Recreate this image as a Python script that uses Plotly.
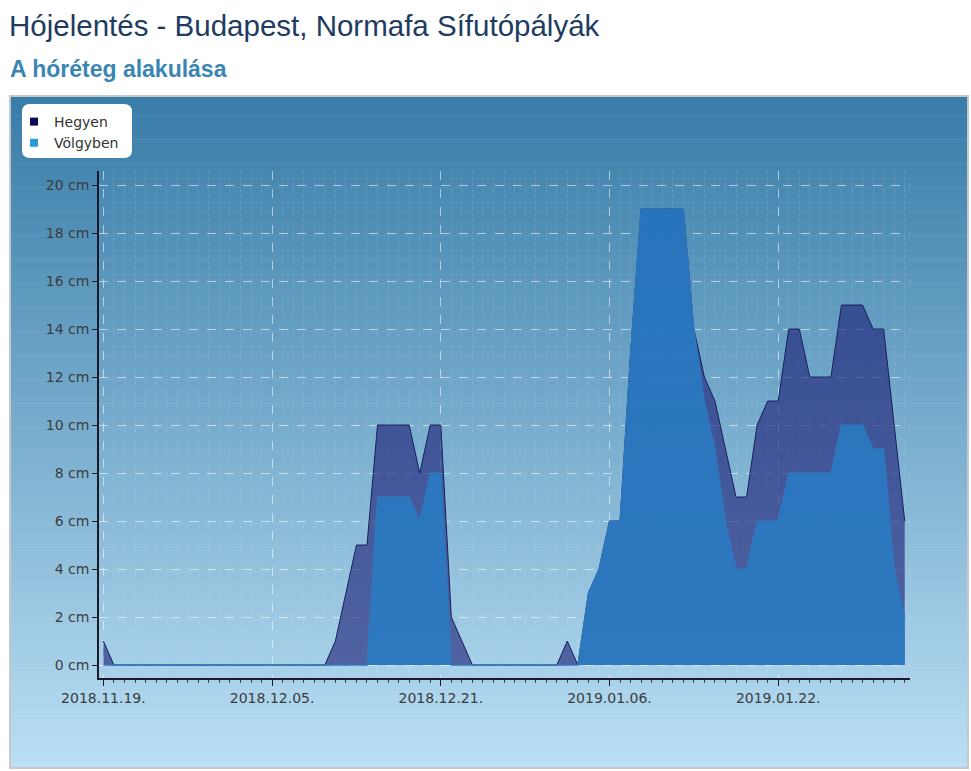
import pandas as pd
import plotly.graph_objects as go

# daily snow depth (cm), starting 2018.11.19
start = "2018-11-19"
hegyen = [1, 0, 0, 0, 0, 0, 0, 0, 0, 0, 0, 0, 0, 0, 0, 0, 0, 0, 0, 0,
          0, 0, 1, 3, 5, 5, 10, 10, 10, 10, 8, 10, 10, 2, 1, 0, 0, 0, 0, 0,
          0, 0, 0, 0, 1, 0, 3, 4, 6, 6, 13, 19, 19, 19, 19, 19, 14, 12, 11, 9,
          7, 7, 10, 11, 11, 14, 14, 12, 12, 12, 15, 15, 15, 14, 14, 10, 6]
volgyben = [0, 0, 0, 0, 0, 0, 0, 0, 0, 0, 0, 0, 0, 0, 0, 0, 0, 0, 0, 0,
            0, 0, 0, 0, 0, 0, 7, 7, 7, 7, 6, 8, 8, 0, 0, 0, 0, 0, 0, 0,
            0, 0, 0, 0, 0, 0, 3, 4, 6, 6, 13, 19, 19, 19, 19, 19, 14, 11, 9, 6,
            4, 4, 6, 6, 6, 8, 8, 8, 8, 8, 10, 10, 10, 9, 9, 4, 2]
y_ticks = list(range(0, 21, 2))
y_labels = ["%d cm" % v for v in y_ticks]

dates = pd.date_range(start, periods=len(hegyen), freq="D")

W, H = 971, 771
L, R, T, B = 99, 61, 171, 93
pw, ph = W - L - R, H - T - B


def px(x):
    return (x - L) / pw


def py(y):
    return (H - B - y) / ph


fig = go.Figure()

fig.add_trace(go.Scatter(
    x=dates, y=hegyen, mode="lines", fill="tozeroy",
    fillcolor="rgba(28,30,118,0.62)", line=dict(color="#1b1f5c", width=1),
    showlegend=False, hoverinfo="skip"))
fig.add_trace(go.Scatter(
    x=dates, y=volgyben, mode="lines", fill="tozeroy",
    fillcolor="rgba(40,124,196,0.86)", line=dict(color="#2f78bd", width=1.2),
    showlegend=False, hoverinfo="skip"))

# legend entries
fig.add_trace(go.Scatter(x=[None], y=[None], mode="markers", name="Hegyen",
                         marker=dict(symbol="square", size=8, color="#0b0b55")))
fig.add_trace(go.Scatter(x=[None], y=[None], mode="markers", name="Völgyben",
                         marker=dict(symbol="square", size=8, color="#2a9ad8")))

# gradient background of the chart box
shapes = []
top_c = (56, 124, 168)
bot_c = (186, 223, 244)
y0, y1 = 96, 768
n = 140
for i in range(n):
    a = y0 + (y1 - y0) * i / n
    b = y0 + (y1 - y0) * (i + 1) / n
    f = (i + 0.5) / n
    c = tuple(round(top_c[k] + (bot_c[k] - top_c[k]) * f) for k in range(3))
    shapes.append(dict(type="rect", xref="paper", yref="paper",
                       x0=px(10), x1=px(968), y0=py(a), y1=py(b + 0.6),
                       fillcolor="rgb(%d,%d,%d)" % c, line=dict(width=0),
                       layer="below"))
shapes.append(dict(type="rect", xref="paper", yref="paper",
                   x0=px(10), x1=px(968), y0=py(96), y1=py(768),
                   line=dict(color="#c4c8cc", width=2), layer="below"))

# rounded white legend box
bx0, bx1, by0, by1, r = 22, 132, 104, 158, 8
path = ("M {a},{b} L {c},{b} Q {x1},{b} {x1},{d} L {x1},{e} Q {x1},{y1} {c},{y1} "
        "L {a},{y1} Q {x0},{y1} {x0},{e} L {x0},{d} Q {x0},{b} {a},{b} Z").format(
    a=px(bx0 + r), c=px(bx1 - r), b=py(by0), d=py(by0 + r), e=py(by1 - r),
    x0=px(bx0), x1=px(bx1), y1=py(by1))
shapes.append(dict(type="path", xref="paper", yref="paper", path=path,
                   fillcolor="white", line=dict(width=0), layer="below"))

annotations = [
    dict(text="Hójelentés - Budapest, Normafa Sífutópályák", xref="paper", yref="paper",
         x=px(7), y=py(25), xanchor="left", yanchor="middle", showarrow=False,
         font=dict(family="Liberation Sans, Arial", size=29.5, color="#1e3c62")),
    dict(text="<b>A hóréteg alakulása</b>", xref="paper", yref="paper",
         x=px(8), y=py(69), xanchor="left", yanchor="middle", showarrow=False,
         font=dict(family="Liberation Sans, Arial", size=23, color="#3a86b3")),
]

day = 86400000
xr = [pd.Timestamp(start) - pd.Timedelta(hours=10),
      pd.Timestamp(start) + pd.Timedelta(hours=76 * 24 + 12)]

fig.update_layout(
    width=W, height=H,
    margin=dict(l=L, r=R, t=T, b=B),
    paper_bgcolor="white",
    plot_bgcolor="rgba(0,0,0,0)",
    shapes=shapes,
    annotations=annotations,
    showlegend=True,
    legend=dict(x=px(14), y=py(106), xanchor="left", yanchor="top",
                bgcolor="rgba(0,0,0,0)", itemwidth=30,
                font=dict(family="DejaVu Sans", size=14, color="#333333")),
    xaxis=dict(
        type="date", range=xr, tick0=start, dtick=16 * day,
        tickformat="%Y.%m.%d.", showline=True, linecolor="#1a1a2a", linewidth=1.5,
        ticks="outside", ticklen=6, tickcolor="#1a1a2a",
        showgrid=True, gridcolor="rgba(255,255,255,0.55)", griddash="dash",
        zeroline=False,
        tickfont=dict(family="DejaVu Sans", size=14, color="#3c3c3c"),
        minor=dict(dtick=day, tick0=start, ticks="outside", ticklen=3,
                   tickcolor="#444444", showgrid=True,
                   gridcolor="rgba(255,255,255,0.14)", griddash="dot"),
    ),
    yaxis=dict(
        range=[-0.54, 20.585], tickmode="array", tickvals=y_ticks, ticktext=y_labels,
        showline=True, linecolor="#1a1a2a", linewidth=1.5,
        ticks="outside", ticklen=5, tickcolor="#1a1a2a",
        showgrid=True, gridcolor="rgba(255,255,255,0.55)", griddash="dash",
        zeroline=False,
        tickfont=dict(family="DejaVu Sans", size=14, color="#3c3c3c"),
    ),
)

fig.write_html("out.html", config={"displayModeBar": False},
               post_script="document.body.style.margin='0';")
